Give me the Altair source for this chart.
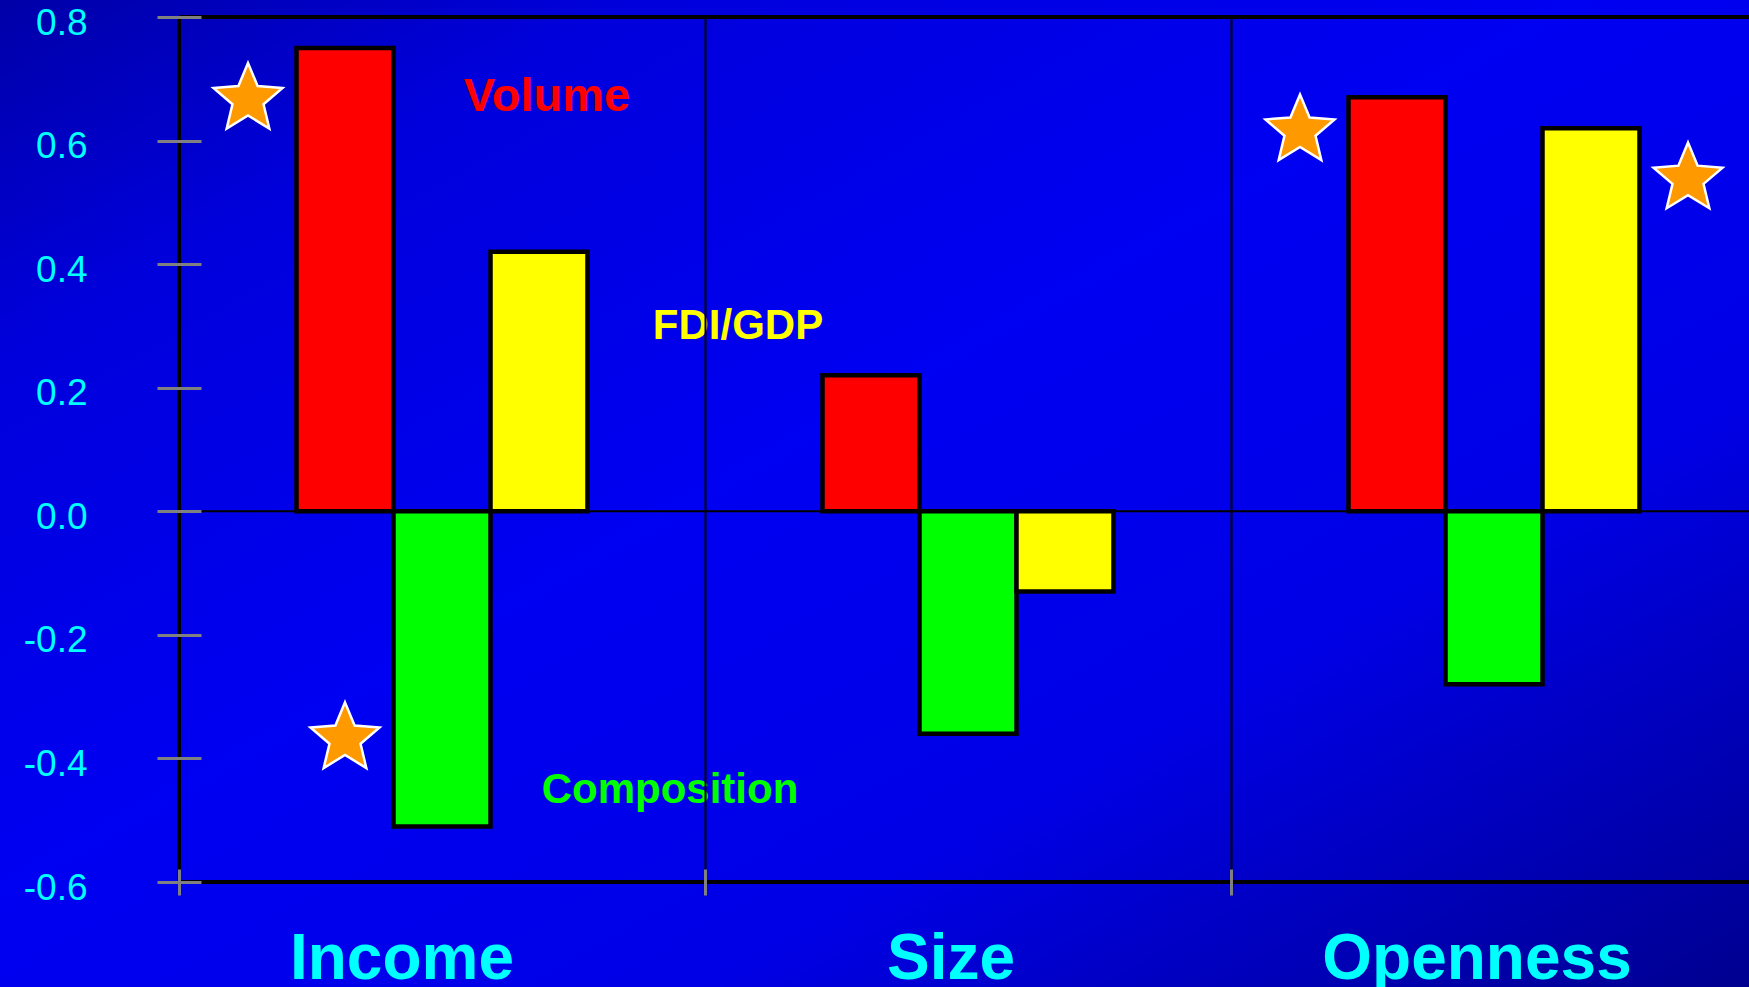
import altair as alt
import pandas as pd

# ---- data ----
categories = ["Income", "Size", "Openness"]
series = ["Volume", "Composition", "FDI/GDP"]
volume = [0.75, 0.22, 0.67]
composition = [-0.51, -0.36, -0.28]
fdi_gdp = [0.42, -0.13, 0.62]
series_colors = ["#FF0000", "#00FF00", "#FFFF00"]

y_ticks = [-0.6, -0.4, -0.2, 0.0, 0.2, 0.4, 0.6, 0.8]

star_category = ["Income", "Income", "Openness", "Openness"]
star_slot = ["left", "Volume", "left", "right"]
star_value = [0.667, -0.368, 0.616, 0.538]
star_dx = [-10, 15, -10, -33]

ann_text = ["Volume", "FDI/GDP", "Composition"]
ann_category = ["Income", "Size", "Income"]
ann_slot = ["FDI/GDP", "left", "right"]
ann_value = [0.648, 0.279, -0.472]
ann_dx = [8, -36, 34]
ann_size = [47, 42, 42]

slots = ["left"] + series + ["right"]

# ---- tables ----
rows = []
for s, vals in zip(series, [volume, composition, fdi_gdp]):
    for c, v in zip(categories, vals):
        rows.append({"category": c, "slot": s, "series": s, "value": v})
bars_df = pd.DataFrame(rows)

stars_df = pd.DataFrame({"category": star_category, "slot": star_slot, "value": star_value,
                         "idx": list(range(len(star_value)))})
ann_df = pd.DataFrame({"category": ann_category, "slot": ann_slot, "value": ann_value,
                       "series": ann_text, "label": ann_text})
one = pd.DataFrame({"k": [0]})

FONT = "Liberation Sans"
W, H = 1570, 865

x_axis = alt.Axis(
    orient="bottom", title=None, offset=-13, domain=False,
    ticks=True, tickSize=26, tickColor="#808080", tickWidth=3,
    bandPosition=0, grid=True, gridColor="black", gridWidth=2,
    labelFont=FONT, labelFontSize=64, labelFontWeight="bold", labelColor="#00FFFF",
    labelPadding=83, labelBaseline="alphabetic", labelAngle=0, labelLimit=0,
    labelOffset={"condition": {"test": "datum.value === 'Income'", "value": -40}, "value": -17},
    zindex=1,
)
y_axis = alt.Axis(
    orient="left", title=None, offset=-22, domain=False, grid=False,
    values=y_ticks, tickSize=44, tickColor="#808080", tickWidth=3,
    labelExpr="(datum.value < 0 ? '-' : '') + format(abs(datum.value), '.1f')",
    labelFont=FONT, labelFontSize=37, labelColor="#00FFFF",
    labelPadding=70, labelAlign="right", labelBaseline="middle", labelOffset=6,
    labelFlush=False, zindex=1,
)
x_scale = alt.Scale(domain=categories, range=[0, 1578], paddingInner=0, paddingOuter=0)
xo_scale = alt.Scale(domain=slots, paddingInner=0, paddingOuter=0.2113)
y_scale = alt.Scale(domain=[-0.6, 0.8], nice=False)
color_enc = alt.Color("series:N", scale=alt.Scale(domain=series, range=series_colors), legend=None)

X = alt.X("category:N", sort=categories, scale=x_scale, axis=x_axis)
XO = alt.XOffset("slot:N", sort=slots, scale=xo_scale)
Y = alt.Y("value:Q", scale=y_scale, axis=y_axis, stack=None)

background = alt.Chart(one).mark_rect(
    fill={"gradient": "linear", "x1": 0, "y1": 0, "x2": 1, "y2": 1,
          "stops": [{"offset": 0, "color": "#0000A8"},
                    {"offset": 0.18, "color": "#0000DC"},
                    {"offset": 0.45, "color": "#0000F2"},
                    {"offset": 0.7, "color": "#0000E6"},
                    {"offset": 1, "color": "#000090"}]}
).encode(x=alt.value(-179), x2=alt.value(W), y=alt.value(-17), y2=alt.value(970))

zero_rule = alt.Chart(one).mark_rule(color="black", strokeWidth=2).encode(
    y=alt.YDatum(0, scale=y_scale, axis=y_axis))

bars = alt.Chart(bars_df).mark_bar(width=97, stroke="black", strokeWidth=4.5, opacity=1).encode(
    x=X, xOffset=XO, y=Y, color=color_enc)

STAR = ("M0,-1L0.2645,-0.3641L0.9511,-0.309L0.428,0.1391L0.5878,0.809L0,0.45"
        "L-0.5878,0.809L-0.428,0.1391L-0.9511,-0.309L-0.2645,-0.3641Z")
star_layers = []
for i, d in enumerate(star_dx):
    star_layers.append(
        alt.Chart(stars_df).transform_filter(f"datum.idx == {i}").mark_point(
            shape=STAR, size=5265, filled=True, fill="#FF9900", stroke="white",
            strokeWidth=2.5, opacity=1, dx=d
        ).encode(x=X, xOffset=XO, y=Y)
    )

text_layers = []
for t, d, fs in zip(ann_text, ann_dx, ann_size):
    text_layers.append(
        alt.Chart(ann_df).transform_filter(alt.datum.label == t).mark_text(
            font=FONT, fontSize=fs, fontWeight="bold", align="center",
            baseline="alphabetic", dx=d
        ).encode(x=X, xOffset=XO, y=Y, color=color_enc, text="label:N")
    )

top_rule = alt.Chart(one).mark_rule(color="black", strokeWidth=4).encode(
    y=alt.YDatum(0.8, scale=y_scale, axis=y_axis))
bottom_rule = alt.Chart(one).mark_rule(color="black", strokeWidth=4).encode(
    y=alt.YDatum(-0.6, scale=y_scale, axis=y_axis))
left_rule = alt.Chart(one).mark_rule(color="black", strokeWidth=4).encode(x=alt.value(0))

chart = alt.layer(
    background, zero_rule, bars, *star_layers, *text_layers, top_rule, bottom_rule, left_rule
).properties(
    width=W, height=H,
    autosize=alt.AutoSizeParams(type="none"),
    padding={"left": 179, "top": 17, "right": 0, "bottom": 105},
    background="#0000C8",
).configure_view(stroke=None)

chart.save("out.html", embed_options={"renderer": "svg", "actions": False})
